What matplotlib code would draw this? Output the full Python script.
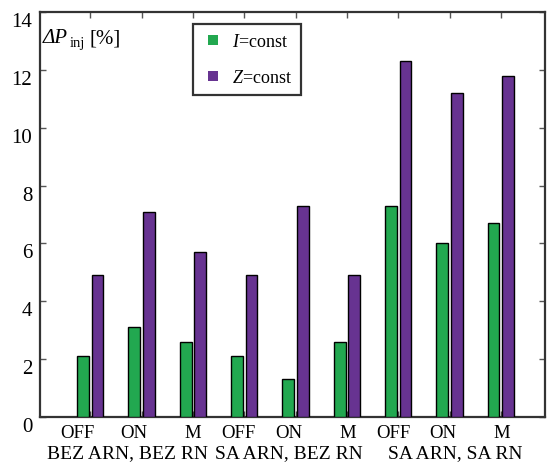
import matplotlib
matplotlib.use("Agg")
import matplotlib.pyplot as plt
import matplotlib.transforms as mtransforms
from matplotlib.lines import Line2D
import numpy as np

# Injected power change per operating case
modes = ["OFF", "ON", "M", "OFF", "ON", "M", "OFF", "ON", "M"]
groups = ["BEZ ARN, BEZ RN", "SA ARN, BEZ RN", "SA ARN, SA RN"]
i_const = [2.1, 3.1, 2.6, 2.1, 1.3, 2.6, 7.3, 6.0, 6.7]
z_const = [4.9, 7.1, 5.7, 4.9, 7.3, 4.9, 12.3, 11.2, 11.8]
y_ticks = [0, 2, 4, 6, 8, 10, 12, 14]

# label placement along the category axis
mode_label_x = [0.74, 1.84, 3.00, 3.88, 4.87, 6.02, 6.91, 7.87, 9.02]
group_label_x = [1.72, 4.87, 8.11]

GREEN = "#22a850"
PURPLE = "#673391"

plt.rcParams["font.family"] = ["Liberation Serif", "DejaVu Serif"]
plt.rcParams["mathtext.fontset"] = "custom"
plt.rcParams["mathtext.rm"] = "Liberation Serif"
plt.rcParams["mathtext.it"] = "Liberation Serif:italic"

fig = plt.figure(figsize=(5.52, 4.64), dpi=100)
ax = fig.add_axes([40 / 552, 46 / 464, 505 / 552, 405 / 464])

x = np.arange(1, len(modes) + 1)
w = 0.23
ax.bar(x - 0.142, i_const, width=w, color=GREEN, edgecolor="black",
       linewidth=1.0, zorder=3)
ax.bar(x + 0.142, z_const, width=w, color=PURPLE, edgecolor="black",
       linewidth=1.0, zorder=3)

ax.set_xlim(0.02, 9.86)
ax.set_ylim(0, 14)
ax.set_yticks(y_ticks)
ax.set_xticks(x)
ax.set_xticklabels([])

ax.tick_params(axis="both", direction="in", length=4, width=1.0,
               color="#555555", top=True, right=True, labelsize=15, pad=5.5)
for lab in ax.get_yticklabels():
    lab.set_transform(lab.get_transform() +
                      mtransforms.ScaledTranslation(0, -7 / 100, fig.dpi_scale_trans))

for s in ax.spines.values():
    s.set_linewidth(1.6)
    s.set_color("#333333")

for xp, m in zip(mode_label_x, modes):
    ax.text(xp, -0.0395, m, transform=ax.get_xaxis_transform(),
            ha="center", va="center", fontsize=13.5)
for xp, g in zip(group_label_x, groups):
    ax.text(xp, -0.089, g, transform=ax.get_xaxis_transform(),
            ha="center", va="center", fontsize=14)

# quantity label: italic ΔP, subscript "inj", unit
t_sym = ax.text(0.006, 0.925, "ΔP", transform=ax.transAxes, ha="left",
                va="baseline", fontsize=15, fontstyle="italic")
t_sub = ax.annotate("inj", xy=(1, 0), xycoords=t_sym, xytext=(1.0, -1.5),
                    textcoords="offset points", ha="left", va="bottom",
                    fontsize=10.5)
ax.annotate("[%]", xy=(1, 0), xycoords=(t_sub, t_sym), xytext=(3.5, 0),
            textcoords="offset points", ha="left", va="bottom", fontsize=15)

handles = [
    Line2D([], [], linestyle="none", marker="s", markersize=6.5,
           markerfacecolor=GREEN, markeredgewidth=0),
    Line2D([], [], linestyle="none", marker="s", markersize=6.5,
           markerfacecolor=PURPLE, markeredgewidth=0),
]
labels = [r"$\mathit{I}$=const", r"$\mathit{Z}$=const"]
leg = ax.legend(handles, labels, loc="upper left",
                bbox_to_anchor=(153 / 505, 1 - 12 / 405),
                fontsize=13, frameon=True, fancybox=False, handlelength=1.2,
                labelspacing=1.05, borderpad=0.5, handletextpad=0.45,
                borderaxespad=0)
leg.get_frame().set_edgecolor("black")
leg.get_frame().set_linewidth(1.6)

fig.savefig("out.png", dpi=100)
